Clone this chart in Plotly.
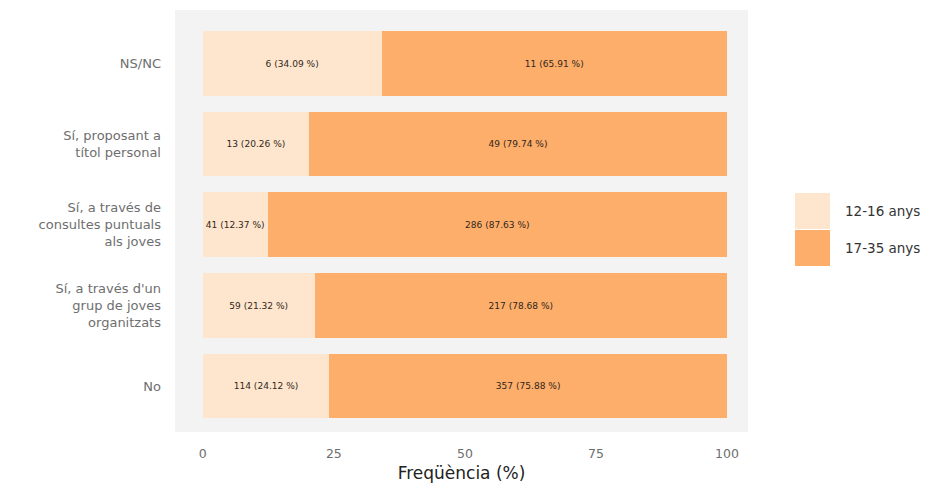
import plotly.graph_objects as go

categories = ["No",
              "Sí, a través d'un<br>grup de joves<br>organitzats",
              "Sí, a través de<br>consultes puntuals<br>als joves",
              "Sí, proposant a<br>títol personal",
              "NS/NC"]
groups = ["12-16 anys", "17-35 anys"]
counts_young = [114, 59, 41, 13, 6]
pct_young = [24.12, 21.32, 12.37, 20.26, 34.09]
counts_old = [357, 217, 286, 49, 11]
pct_old = [75.88, 78.68, 87.63, 79.74, 65.91]
x_ticks = [0, 25, 50, 75, 100]

colors = ["#FEE6CE", "#FDAE6B"]
FONT = "DejaVu Sans"

# screen geometry of panel (page has 8px body margin)
PX0, PX1, PY0, PY1 = 175, 748, 10, 432
PW, PH = PX1 - PX0, PY1 - PY0

fig = go.Figure()
for name, cnt, pct, col in [(groups[0], counts_young, pct_young, colors[0]),
                            (groups[1], counts_old, pct_old, colors[1])]:
    fig.add_trace(go.Bar(
        y=categories, x=pct, name=name, orientation="h",
        marker=dict(color=col, line=dict(width=0)),
        width=0.8,
        text=[f"{c} ({p:.2f} %)" for c, p in zip(cnt, pct)],
        textposition="inside", insidetextanchor="middle",
        textfont=dict(size=10.5, color="#33261a", family=FONT),
        hoverinfo="skip", showlegend=False,
    ))

# manual legend (large square keys as in the reference)
key_w, key_h = 35, 36
for i, (name, col) in enumerate(zip(groups, colors)):
    y0 = 193 + i * 37
    fig.add_shape(type="rect", xref="paper", yref="paper",
                  x0=(795 - PX0) / PW, x1=(795 + key_w - PX0) / PW,
                  y0=(PY1 - y0 - key_h) / PH, y1=(PY1 - y0) / PH,
                  line=dict(width=0), fillcolor=col, layer="above")
    fig.add_annotation(xref="paper", yref="paper",
                       x=(843 - PX0) / PW, y=(PY1 - y0 - key_h / 2) / PH,
                       xanchor="left", yanchor="middle", showarrow=False,
                       text=name, font=dict(size=13.5, color="#333333", family=FONT))

fig.update_layout(
    barmode="stack",
    width=925, height=475,
    margin=dict(l=PX0 - 8, r=925 - (PX1 - 8), t=PY0 - 8, b=475 - (PY1 - 8), autoexpand=False),
    paper_bgcolor="white",
    plot_bgcolor="#F3F3F4",
    font=dict(family=FONT, color="#4D4D4D"),
    showlegend=False,
    uniformtext=dict(minsize=7, mode="show"),
)
fig.update_xaxes(range=[-5.3, 104], tickvals=x_ticks, ticktext=[str(v) for v in x_ticks],
                 showgrid=False, zeroline=False, ticks="", automargin=False,
                 tickfont=dict(size=12.5, color="#6e6e6e"), ticklabelstandoff=12,
                 title=dict(text="Freqüència (%)", font=dict(size=17, color="#222222"), standoff=7))
fig.update_yaxes(categoryorder="array", categoryarray=categories,
                 range=[-0.57, 4.66], showgrid=False, zeroline=False, ticks="",
                 automargin=False,
                 tickfont=dict(size=13, color="#6e6e6e"), ticklabelstandoff=13)

fig.write_html("out.html")
